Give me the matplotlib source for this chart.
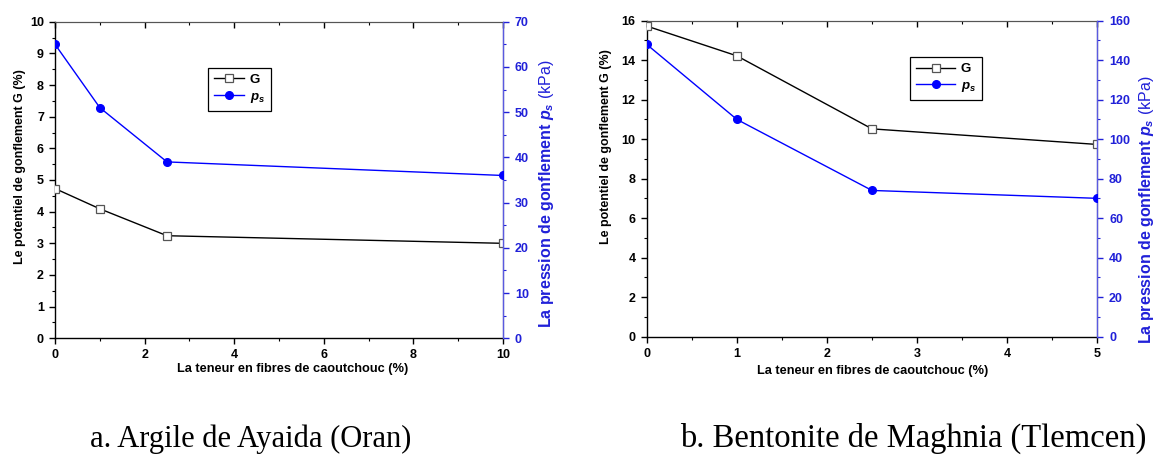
import matplotlib
matplotlib.use("Agg")
import matplotlib.pyplot as plt
from matplotlib.ticker import MultipleLocator

plt.rcParams['font.family'] = ['Liberation Sans', 'DejaVu Sans']
plt.rcParams['mathtext.fontset'] = 'custom'
plt.rcParams['mathtext.it'] = 'Liberation Sans:italic:bold'
plt.rcParams['mathtext.rm'] = 'Liberation Sans'
plt.rcParams['mathtext.bf'] = 'Liberation Sans:bold'

# (a) Argile de Ayaida (Oran)
fiber_a = [0, 1, 2.5, 10]
G_a = [4.73, 4.09, 3.24, 3.0]
ps_a = [65, 51, 39, 36]

# (b) Bentonite de Maghnia (Tlemcen)
fiber_b = [0, 1, 2.5, 5]
G_b = [15.73, 14.22, 10.52, 9.73]
ps_b = [148, 110, 74, 70]

captions = ["a. Argile de Ayaida (Oran)", "b. Bentonite de Maghnia (Tlemcen)"]
xlabel = "La teneur en fibres de caoutchouc (%)"
ylabel_left = "Le potentiel de gonflement G (%)"
ylabel_right = r"La pression de gonflement $p_s\ \mathrm{(kPa)}$"

BLUE = '#0000ff'
BLUE_TXT = '#2020d8'
BLUE_SPINE = '#5a5ae0'

W, H = 1155, 457
fig = plt.figure(figsize=(W / 100, H / 100), dpi=100)


def panel(rect, x, g, ps, xlim, xmaj, xmin, glim, gmaj, gmin, plim, pmaj, pmin,
          leg_xy, leg_len, xl_xy, yl_xy, yr_xy):
    ax = fig.add_axes(rect)
    axr = ax.twinx()

    ax.plot(x, g, color='black', lw=1.0, marker='s', ms=5.5,
            mfc='white', mec='#555555', mew=0.9, label='G', zorder=3)
    axr.plot(x, ps, color=BLUE, lw=1.0, marker='o', ms=5.5,
             mfc=BLUE, mec=BLUE, label='$p_s$', zorder=3)

    ax.set_xlim(*xlim)
    ax.set_ylim(*glim)
    axr.set_ylim(*plim)

    ax.xaxis.set_major_locator(MultipleLocator(xmaj))
    ax.xaxis.set_minor_locator(MultipleLocator(xmin))
    ax.yaxis.set_major_locator(MultipleLocator(gmaj))
    ax.yaxis.set_minor_locator(MultipleLocator(gmin))
    axr.yaxis.set_major_locator(MultipleLocator(pmaj))
    axr.yaxis.set_minor_locator(MultipleLocator(pmin))

    ax.tick_params(axis='both', which='major', direction='out', length=4.5,
                   width=1.0, labelsize=9, pad=3.5)
    ax.tick_params(axis='both', which='minor', direction='out', length=2.5,
                   width=0.8)
    for lab in ax.get_xticklabels() + ax.get_yticklabels():
        lab.set_fontweight('bold')

    axr.tick_params(axis='y', which='major', direction='out', length=4.5,
                    width=1.0, labelsize=9, pad=4, colors=BLUE_TXT)
    axr.tick_params(axis='y', which='minor', direction='out', length=2.5,
                    width=0.8, colors=BLUE_TXT)
    for lab in axr.get_yticklabels():
        lab.set_fontweight('bold')

    # inward ticks along the top edge
    top = ax.secondary_xaxis('top')
    top.xaxis.set_major_locator(MultipleLocator(xmaj))
    top.xaxis.set_minor_locator(MultipleLocator(xmin))
    top.tick_params(which='major', direction='in', length=4.5, width=1.0,
                    labeltop=False)
    top.tick_params(which='minor', direction='in', length=2.5, width=0.8)
    top.spines['top'].set_color('#555555')

    for side in ['left', 'bottom']:
        ax.spines[side].set_linewidth(1.0)
    ax.spines['top'].set_color('#555555')
    axr.spines['right'].set_color(BLUE_SPINE)
    axr.spines['right'].set_linewidth(1.0)
    axr.spines['left'].set_visible(False)
    axr.spines['bottom'].set_visible(False)
    axr.spines['top'].set_visible(False)

    ax.set_xlabel(xlabel, fontsize=9.2, fontweight='bold')
    ax.xaxis.set_label_coords(*xl_xy)
    ax.xaxis.label.set_va('center')
    ax.set_ylabel(ylabel_left, fontsize=9, fontweight='bold')
    ax.yaxis.set_label_coords(*yl_xy)
    ax.yaxis.label.set_va('center')
    axr.set_ylabel(ylabel_right, fontsize=11.5, fontweight='bold', color=BLUE_TXT)
    axr.yaxis.set_label_coords(*yr_xy)
    axr.yaxis.label.set_va('center')

    h1, l1 = ax.get_legend_handles_labels()
    h2, l2 = axr.get_legend_handles_labels()
    leg = axr.legend(h1 + h2, l1 + l2, loc='upper left', bbox_to_anchor=leg_xy,
                     fancybox=False, framealpha=1, edgecolor='black',
                     prop={'weight': 'bold', 'size': 9.5}, handlelength=leg_len,
                     borderpad=0.45, labelspacing=0.35, handletextpad=0.4,
                     borderaxespad=0)
    leg.get_frame().set_linewidth(0.9)
    return ax, axr


panel([55 / W, (H - 338.3) / H, 448 / W, 316.6 / H],
      fiber_a, G_a, ps_a, (0, 10), 2, 1, (0, 10), 1, 0.5, (0, 70), 10, 5,
      leg_xy=(0.3415, 0.854), leg_len=2.3, xl_xy=(0.531, -0.097),
      yl_xy=(-0.079, 0.544), yr_xy=(1.096, 0.455))

panel([646.7 / W, (H - 336.5) / H, 450.6 / W, 315.8 / H],
      fiber_b, G_b, ps_b, (0, 5), 1, 0.5, (0, 16), 2, 1, (0, 160), 20, 10,
      leg_xy=(0.584, 0.885), leg_len=3.0, xl_xy=(0.501, -0.109),
      yl_xy=(-0.0894, 0.60), yr_xy=(1.109, 0.40))

fig.text(251 / W, 1 - 447 / H, captions[0], ha='center', va='baseline',
         family='Liberation Serif', fontsize=22)
fig.text(913.5 / W, 1 - 447 / H, captions[1], ha='center', va='baseline',
         family='Liberation Serif', fontsize=23.5)

fig.savefig('out.png', dpi=100)
